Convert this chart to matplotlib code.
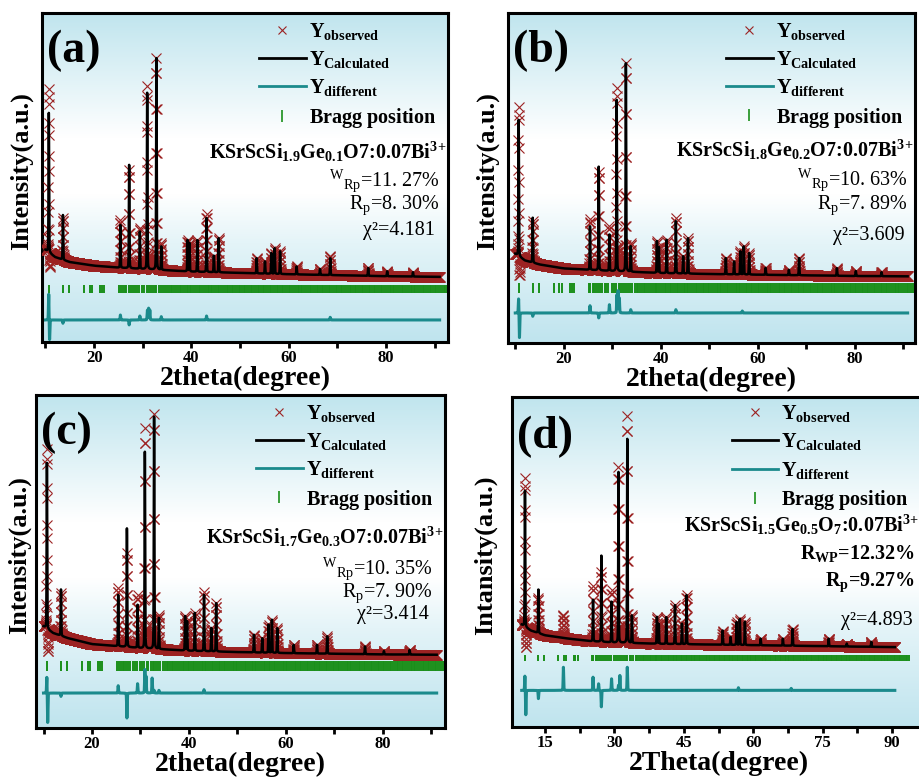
"""
plot.py
Rietveld refinement plots of KSrScSi(2-x)GexO7:0.07Bi3+ (four panels).
"""

import matplotlib.pyplot as plt
import numpy as np
from matplotlib.colors import LinearSegmentedColormap
from matplotlib.lines import Line2D
from matplotlib.ticker import MultipleLocator, NullLocator

# ---------------------------------------------------------------------------
# Data (intensity in arbitrary units, 0-1000 span of each panel)
# ---------------------------------------------------------------------------

PEAK_POS = [10.7, 13.6, 25.4, 27.2, 29.4, 30.9, 32.8, 33.8, 39.2, 39.6,
            41.2, 43.1, 44.6, 45.6, 53.4, 55.1, 56.4, 57.1, 58.2, 61.6,
            66.4, 68.5, 76.3, 80.2, 85.5]

HEIGHT_A = [424, 136, 130, 314, 113, 536, 643, 71, 95, 86,
            96, 164, 50, 104, 46, 37, 63, 78, 69, 24,
            18, 51, 24, 15, 13]
HEIGHT_B = [413, 136, 132, 314, 110, 519, 631, 77, 96, 78,
            101, 158, 52, 107, 49, 39, 70, 85, 65, 21,
            16, 52, 23, 15, 12]
HEIGHT_C = [498, 139, 154, 356, 129, 590, 697, 93, 103, 88,
            114, 169, 70, 145, 53, 43, 84, 99, 74, 25,
            26, 52, 23, 10, 14]
HEIGHT_D = [412, 132, 126, 261, 123, 517, 618, 83, 81, 60,
            81, 118, 62, 149, 43, 24, 69, 79, 70, 20,
            21, 51, 23, 9, 15]

BG_X = [10, 12, 15, 20, 25, 30, 35, 40, 50, 60, 70, 80, 91]
BG_A = [280, 258, 243, 232, 226, 222, 218, 214, 210, 206, 203, 200, 198]
BG_B = [270, 250, 238, 226, 222, 218, 215, 212, 209, 207, 205, 203, 202]
BG_C = [305, 285, 270, 252, 246, 240, 236, 232, 228, 225, 223, 221, 220]
BG_D = [310, 292, 278, 268, 260, 256, 254, 252, 250, 248, 246, 244, 242]

# observed - calculated
DIFF_POS_A = [10.68, 10.86, 13.6, 25.4, 27.2, 29.4, 30.95, 31.2, 31.45, 33.8, 43.1, 68.5]
DIFF_AMP_A = [80, -62, -10, 15, -15, 12, 30, 35, 30, 10, 12, 8]
DIFF_POS_B = [10.68, 10.86, 13.6, 25.4, 27.2, 29.4, 30.95, 31.2, 31.45, 33.8, 43.1, 56.8]
DIFF_AMP_B = [45, -76, -10, 22, -15, 25, 55, 66, 45, 10, 10, 6]
DIFF_POS_C = [10.68, 10.86, 13.6, 25.4, 27.2, 29.4, 30.9, 31.15, 32.4, 32.8, 33.8, 43.1]
DIFF_AMP_C = [50, -90, -10, 22, -75, 28, 70, 50, 45, 8, 8, 10]
DIFF_POS_D = [10.68, 10.88, 13.6, 19.0, 25.4, 26.6, 27.2, 29.4, 30.9, 31.2, 32.8, 56.8, 68.2]
DIFF_AMP_D = [45, -75, -25, 70, 40, 20, -50, 35, 15, 45, 70, 8, 6]

BRAGG_POS = [
    10.7, 13.6, 14.8, 17.9, 19.1, 19.6, 21.2, 21.6, 22.1,
    25.1, 25.5, 26.0, 26.3, 26.6, 27.1, 27.5, 27.9, 28.4, 28.8, 29.2,
    29.9, 30.3, 30.8, 31.3, 31.6, 32.1, 32.5, 32.8, 33.3, 33.7, 34.1,
    34.6, 35.0, 35.4, 35.7, 36.1, 36.5, 36.8, 37.2, 37.6, 37.9, 38.3,
    38.7, 39.0, 39.3, 39.7, 40.0, 40.4, 40.8, 41.1, 41.5, 41.8, 42.2,
    42.6, 42.9, 43.3, 43.6, 44.0, 44.3, 44.7, 45.0, 45.4, 45.7, 46.1,
    46.5, 46.8, 47.2, 47.5, 47.9, 48.3, 48.6, 49.0, 49.3, 49.7, 50.0,
    50.4, 50.7, 51.1, 51.5, 51.8, 52.2, 52.5, 52.9, 53.2, 53.6, 53.9,
    54.3, 54.7, 55.0, 55.4, 55.7, 56.1, 56.4, 56.8, 57.1, 57.5, 57.8,
    58.2, 58.6, 58.9, 59.3, 59.6, 60.0, 60.3, 60.7, 61.1, 61.4, 61.8,
    62.1, 62.5, 62.8, 63.2, 63.6, 63.9, 64.3, 64.6, 65.0, 65.3, 65.7,
    66.0, 66.4, 66.8, 67.1, 67.5, 67.8, 68.2, 68.5, 68.9, 69.3, 69.6,
    70.0, 70.3, 70.7, 71.0, 71.4, 71.7, 72.1, 72.5, 72.8, 73.2, 73.5,
    73.9, 74.2, 74.6, 75.0, 75.3, 75.7, 76.0, 76.4, 76.7, 77.1, 77.5,
    77.8, 78.2, 78.5, 78.9, 79.2, 79.6, 80.0, 80.3, 80.7, 81.0, 81.4,
    81.7, 82.1, 82.5, 82.8, 83.2, 83.5, 83.9, 84.2, 84.6, 85.0, 85.3,
    85.7, 86.0, 86.4, 86.7, 87.1, 87.5, 87.8, 88.2, 88.5, 88.9, 89.2,
    89.6, 90.0, 90.3, 90.7, 91.0, 91.4, 91.8, 92.1, 92.5, 92.9, 93.3,
    93.6,
]

LABELS   = ["(a)", "(b)", "(c)", "(d)"]
FORMULAS = [
    r"KSrScSi$_{\mathbf{1.9}}$Ge$_{\mathbf{0.1}}$O7:0.07Bi$^{\mathbf{3\!+}}$",
    r"KSrScSi$_{\mathbf{1.8}}$Ge$_{\mathbf{0.2}}$O7:0.07Bi$^{\mathbf{3\!+}}$",
    r"KSrScSi$_{\mathbf{1.7}}$Ge$_{\mathbf{0.3}}$O7:0.07Bi$^{\mathbf{3\!+}}$",
    r"KSrScSi$_{\mathbf{1.5}}$Ge$_{\mathbf{0.5}}$O$_{\mathbf{7}}$:0.07Bi$^{\mathbf{3\!+}}$",
]
RWP_TEXT = [r"$^{\rm W}$$_{\rm Rp}$=11. 27%", r"$^{\rm W}$$_{\rm Rp}$=10. 63%",
            r"$^{\rm W}$$_{\rm Rp}$=10. 35%", r"R$_{\mathbf{WP}}$=12.32%"]
RP_TEXT  = [r"R$_{\rm p}$=8. 30%", r"R$_{\rm p}$=7. 89%",
            r"R$_{\rm p}$=7. 90%", r"R$_{\mathbf{p}}$=9.27%"]
CHI_TEXT = ["χ²=4.181", "χ²=3.609", "χ²=3.414", "χ²=4.893"]
XLABELS  = ["2theta(degree)", "2theta(degree)", "2theta(degree)", "2Theta(degree)"]
YLABELS  = ["Intensity(a.u.)", "Intensity(a.u.)", "Intensity(a.u.)", "Intansity(a.u.)"]
LEGEND_NAMES = [r"Y$_{\mathbf{observed}}$", r"Y$_{\mathbf{Calculated}}$",
                r"Y$_{\mathbf{different}}$", r"$\mathbf{Bragg\ position}$"]

# ---------------------------------------------------------------------------
# Style
# ---------------------------------------------------------------------------

OBS_C   = "#9c2222"
DIFF_C  = "#1b8a8c"
BRAGG_C = "#1a8f1a"

plt.rcParams.update({
    "font.family": ["Liberation Serif", "DejaVu Serif"],
    "font.weight": "bold",
    "mathtext.fontset": "custom",
    "mathtext.rm": "Liberation Serif:weight=normal",
    "mathtext.it": "Liberation Serif:italic:weight=normal",
    "mathtext.bf": "Liberation Serif:weight=bold",
    "axes.linewidth": 2.2,
})

BG_CMAP = LinearSegmentedColormap.from_list(
    "panel_bg",
    [(0.0, "#bfe4ee"), (0.3, "#e4f4f8"), (0.45, "#ffffff"),
     (0.62, "#ffffff"), (1.0, "#c0e5ee")],
)


def pseudo_voigt(x, pos, amp, fwhm=0.13):
    out = np.zeros_like(x)
    for p, a in zip(pos, amp):
        z = (x - p) / fwhm
        out += a * (0.75 * np.exp(-4 * np.log(2) * z ** 2) + 0.25 / (1 + 4 * z ** 2))
    return out


def draw_panel(ax, i, heights, bg, diff_pos, diff_amp, cfg):
    x = np.arange(10.0, cfg["xend"], 0.02)
    calc = np.interp(x, BG_X, bg) + pseudo_voigt(x, PEAK_POS, heights)
    diff = pseudo_voigt(x, diff_pos, diff_amp)
    obs = calc + diff

    grad = np.linspace(0, 1, 256).reshape(-1, 1)
    ax.imshow(grad, extent=[0, 1, 0, 1], transform=ax.transAxes, origin="lower",
              aspect="auto", cmap=BG_CMAP, zorder=0)

    ax.vlines(BRAGG_POS, cfg["bragg"][0], cfg["bragg"][1], color=BRAGG_C, lw=1.4, zorder=2)
    ax.plot(x, cfg["diff0"] + diff, color=DIFF_C, lw=2.2, zorder=2)
    ax.plot(x, obs, ls="none", marker="x", ms=7, mew=0.8, color=OBS_C, zorder=3)
    ax.plot(x, calc, color="black", lw=1.8, zorder=4)

    ax.set_xlim(*cfg["xlim"])
    ax.set_ylim(0, 1000)
    ax.yaxis.set_major_locator(NullLocator())
    ax.xaxis.set_major_locator(MultipleLocator(cfg["major"]))
    ax.xaxis.set_minor_locator(MultipleLocator(cfg["major"] / 2))
    ax.tick_params(axis="x", which="both", direction="out", width=2, length=4,
                   labelsize=12, pad=2)
    for lab in ax.get_xticklabels():
        lab.set_fontweight("bold")

    ax.set_xlabel(XLABELS[i], fontsize=20, fontweight="bold", labelpad=0)
    ax.set_ylabel(YLABELS[i], fontsize=19, fontweight="bold")
    ax.yaxis.set_label_coords(cfg["ylab_x"], 0.52)

    ax.text(0.012, cfg["lab_y"], LABELS[i], transform=ax.transAxes, fontsize=33,
            fontweight="bold", ha="left", va="center")

    handles = [
        Line2D([], [], ls="none", marker="x", ms=6, mew=0.8, color=OBS_C),
        Line2D([], [], color="black", lw=2),
        Line2D([], [], color=DIFF_C, lw=2),
        Line2D([], [], ls="none", marker="|", ms=9, mew=1.2, color=BRAGG_C),
    ]
    ax.legend(handles, LEGEND_NAMES, loc="upper right", bbox_to_anchor=cfg["leg"],
              frameon=False, handlelength=2.3, handletextpad=0.15,
              labelspacing=0.36, borderpad=0.1,
              prop={"family": "Liberation Serif", "weight": "bold", "size": 14.5})

    weight_r = "bold" if i == 3 else "normal"
    ax.text(cfg["txt_x"][0], cfg["txt_y"][0], FORMULAS[i], transform=ax.transAxes,
            fontsize=14.5, fontweight="bold", ha="right", va="center")
    ax.text(cfg["txt_x"][1], cfg["txt_y"][1], RWP_TEXT[i], transform=ax.transAxes,
            fontsize=14.5, fontweight=weight_r, ha="right", va="center")
    ax.text(cfg["txt_x"][1], cfg["txt_y"][2], RP_TEXT[i], transform=ax.transAxes,
            fontsize=14.5, fontweight=weight_r, ha="right", va="center")
    ax.text(cfg["txt_x"][2], cfg["txt_y"][3], CHI_TEXT[i], transform=ax.transAxes,
            fontsize=14.5, fontweight="normal", ha="right", va="center")


def main():
    fig = plt.figure(figsize=(9.19, 7.78), dpi=100)
    W, H = 919, 778

    def rect(left, top, width, height):
        return [left / W, (H - top - height) / H, width / W, height / H]

    configs = [
        dict(rect=rect(42, 13, 406, 329), xlim=(9.3, 92.7), xend=91.0, major=20,
             bragg=(150, 173), diff0=67, lab_y=0.885, leg=(1.0, 1.013), ylab_x=-0.022,
             txt_x=(0.997, 0.98, 0.968), txt_y=(0.577, 0.49, 0.416, 0.34)),
        dict(rect=rect(508, 13, 407, 330), xlim=(8.5, 92.4), xend=90.9, major=20,
             bragg=(152, 182), diff0=91, lab_y=0.885, leg=(1.0, 1.013), ylab_x=-0.022,
             txt_x=(0.995, 0.983, 0.975), txt_y=(0.585, 0.494, 0.418, 0.327)),
        dict(rect=rect(36, 395, 409, 333), xlim=(8.45, 92.8), xend=91.1, major=20,
             bragg=(170, 200), diff0=105, lab_y=0.885, leg=(1.0, 1.013), ylab_x=-0.012,
             txt_x=(0.995, 0.97, 0.96), txt_y=(0.574, 0.48, 0.405, 0.34)),
        dict(rect=rect(512, 397, 413, 330), xlim=(7.9, 97.1), xend=90.6, major=15,
             bragg=(200, 217), diff0=111, lab_y=0.88, leg=(0.99, 1.018), ylab_x=-0.035,
             txt_x=(0.985, 0.976, 0.97), txt_y=(0.612, 0.527, 0.44, 0.324)),
    ]
    heights = [HEIGHT_A, HEIGHT_B, HEIGHT_C, HEIGHT_D]
    bgs = [BG_A, BG_B, BG_C, BG_D]
    dpos = [DIFF_POS_A, DIFF_POS_B, DIFF_POS_C, DIFF_POS_D]
    damp = [DIFF_AMP_A, DIFF_AMP_B, DIFF_AMP_C, DIFF_AMP_D]

    for i, cfg in enumerate(configs):
        ax = fig.add_axes(cfg["rect"])
        draw_panel(ax, i, heights[i], bgs[i], dpos[i], damp[i], cfg)

    fig.savefig("out.png", dpi=100)
    plt.close(fig)


if __name__ == "__main__":
    main()
